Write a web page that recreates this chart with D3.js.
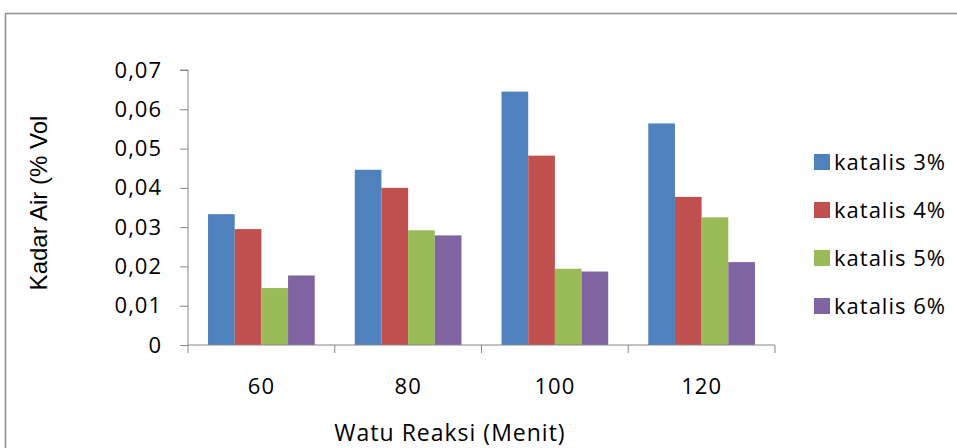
<!DOCTYPE html>
<html><head><meta charset="utf-8">
<script src="https://cdn.jsdelivr.net/npm/d3@7"></script>
<style>html,body{margin:0;padding:0;background:#fff;}svg{display:block;}</style>
</head><body>
<svg id="c" width="957" height="448"></svg>
<script>
const categories = ["60", "80", "100", "120"];
const seriesNames = ["katalis 3%", "katalis 4%", "katalis 5%", "katalis 6%"];
const katalis3 = [0.0333, 0.0446, 0.0645, 0.0564];
const katalis4 = [0.0295, 0.0400, 0.0482, 0.0377];
const katalis5 = [0.0145, 0.0292, 0.0194, 0.0325];
const katalis6 = [0.0177, 0.0279, 0.0187, 0.0211];
const yTicks = [0, 0.01, 0.02, 0.03, 0.04, 0.05, 0.06, 0.07];
const colors = ["#4f81bd", "#c0504d", "#9bbb59", "#8064a2"];
const seriesValues = [katalis3, katalis4, katalis5, katalis6];

const svg = d3.select("#c");
const FONT = "'Open Sans', sans-serif";
const axisColor = "#868686";

// outer frame
svg.append("rect").attr("x", 5.5).attr("y", 13.5).attr("width", 1000).attr("height", 500)
  .attr("fill", "none").attr("stroke", "#8c8c8c").attr("stroke-width", 1.5);

const x0 = 188, x1 = 775, yTop = 70, yBot = 345;
const x = d3.scaleBand().domain(categories).range([x0, x1]).paddingInner(0.273).paddingOuter(0.1365);
const xs = d3.scaleBand().domain(seriesNames).range([0, x.bandwidth()]);
const y = d3.scaleLinear().domain([0, 0.07]).range([yBot, yTop]);
const xOuter = d3.scaleBand().domain(categories).range([x0, x1]);

// bars
seriesNames.forEach((s, si) => {
  svg.append("g").selectAll("rect").data(categories).join("rect")
    .attr("x", d => x(d) + xs(s))
    .attr("y", (d, i) => y(seriesValues[si][i]))
    .attr("width", xs.bandwidth())
    .attr("height", (d, i) => yBot - y(seriesValues[si][i]))
    .attr("fill", colors[si]);
});

// y axis
const fmt = v => v === 0 ? "0" : d3.format(".2f")(v).replace(".", ",");
const yAxis = svg.append("g").attr("transform", `translate(${x0},0)`)
  .call(d3.axisLeft(y).tickValues(yTicks).tickSize(8).tickPadding(18).tickFormat(fmt));
yAxis.select(".domain").attr("stroke", axisColor).attr("d", `M-8,${yTop}H0V${yBot}`);
yAxis.selectAll(".tick line").attr("stroke", axisColor);
yAxis.selectAll(".tick text").attr("font-family", FONT).attr("font-size", 22)
  .attr("letter-spacing", 1).attr("fill", "#000");

// x axis
const xAxis = svg.append("g").attr("transform", `translate(0,${yBot})`)
  .call(d3.axisBottom(xOuter).tickSize(0).tickPadding(33));
xAxis.select(".domain").attr("stroke", axisColor).attr("d", `M${x0},0H${x1}`);
xAxis.selectAll(".tick text").attr("font-family", FONT).attr("font-size", 22)
  .attr("letter-spacing", 1).attr("fill", "#000");
// category boundary ticks
const bounds = categories.map(c => xOuter(c)).concat([x1]);
svg.append("g").selectAll("line").data(bounds).join("line")
  .attr("x1", d => d).attr("x2", d => d).attr("y1", yBot).attr("y2", yBot + 8)
  .attr("stroke", axisColor);

// axis titles
svg.append("text").attr("x", 450).attr("y", 441).attr("text-anchor", "middle")
  .attr("font-family", FONT).attr("font-size", 23).attr("letter-spacing", 1)
  .text("Watu Reaksi (Menit)");
svg.append("text").attr("transform", "translate(47,203) rotate(-90)").attr("text-anchor", "middle")
  .attr("font-family", "'Liberation Sans', Arial, sans-serif").attr("font-size", 24)
  .text("Kadar Air (% Vol");

// legend
const lg = svg.append("g");
seriesNames.forEach((s, i) => {
  const cy = 162 + i * 48;
  lg.append("rect").attr("x", 814).attr("y", cy - 8).attr("width", 16).attr("height", 16).attr("fill", colors[i]);
  lg.append("text").attr("x", 834).attr("y", cy).attr("dy", "0.35em")
    .attr("font-family", FONT).attr("font-size", 22).attr("letter-spacing", 1).text(s);
});
</script>
</body></html>
